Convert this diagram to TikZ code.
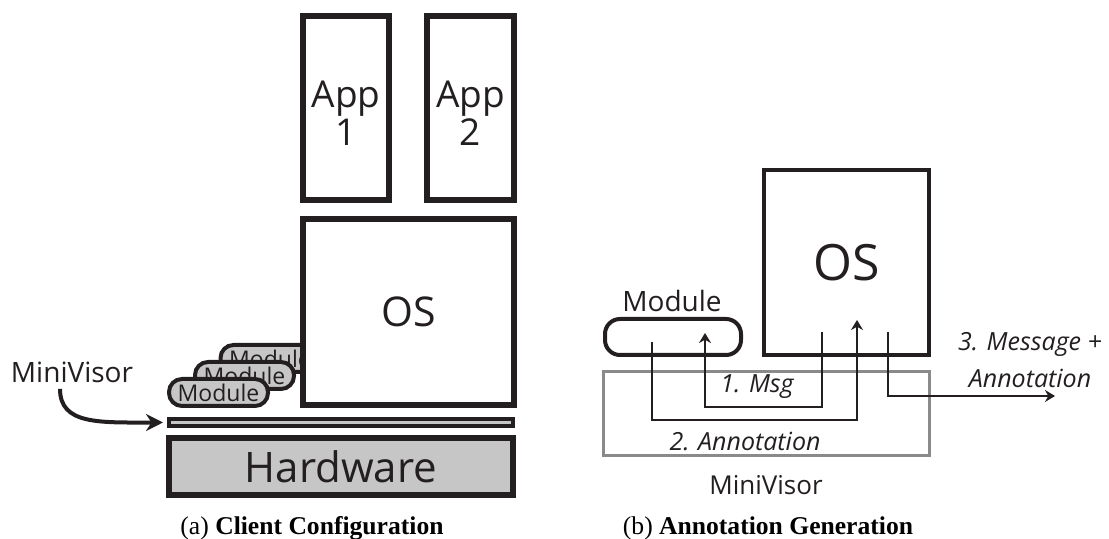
\documentclass[tikz,border=0pt]{standalone}
\usepackage{fontspec}
\setmainfont{Liberation Serif}
\newfontfamily\figfont{Open Sans}
\usetikzlibrary{arrows.meta, positioning, calc}
\definecolor{inkblack}{HTML}{231F20}
\definecolor{hwgray}{HTML}{C6C6C6}
\definecolor{mvgray}{HTML}{8A8A8A}

\begin{document}
\begin{tikzpicture}[
    x=0.5pt, y=-0.5pt,
    appbox/.style={rectangle, draw=inkblack, fill=white, line width=3pt, inner sep=0pt,
                   text=inkblack, align=center, font=\figfont\fontsize{18.5}{19}\selectfont},
    modpill/.style={rectangle, rounded corners=6.5pt, draw=inkblack, fill=hwgray, line width=2pt,
                    inner sep=0pt, minimum width=49.5pt, minimum height=13.5pt,
                    text=inkblack, font=\figfont\fontsize{11.5}{12}\selectfont},
    layerbar/.style={rectangle, draw=inkblack, fill=hwgray, inner sep=0pt, minimum width=172pt,
                     text=inkblack, font=\figfont\fontsize{21}{24}\selectfont},
    plainlabel/.style={inner sep=0pt, text=inkblack, font=\figfont\fontsize{14}{16}\selectfont},
    steplabel/.style={inner sep=0pt, text=inkblack, align=center,
                      font=\figfont\itshape\fontsize{12.5}{18.5}\selectfont},
    flow/.style={-{Stealth[length=5pt, width=6pt]}, line width=1.1pt, draw=inkblack},
    caption/.style={anchor=base, inner sep=0pt, font=\fontsize{12.8}{14}\selectfont},
]
    \useasboundingbox (0,0) rectangle (1109,539);

    % Client configuration
    \node[appbox, minimum width=43pt, minimum height=92pt] (app1) at (346,108) {\rule{0pt}{19pt}App\\1};
    \node[appbox, minimum width=43.5pt, minimum height=92pt] (app2) at (470.5,108) {\rule{0pt}{19pt}App\\2};

    \node[modpill] (mod3) at (270,358.5) {Module};
    \node[modpill] (mod2) at (244.5,375.5) {Module};
    \node[modpill] (mod1) at (218.5,392.5) {Module};

    \node[appbox, minimum width=105.5pt, minimum height=93pt,
          font=\figfont\fontsize{20.5}{22}\selectfont] (os1) at (408.5,312) {OS};

    \node[layerbar, line width=2pt, minimum height=3.5pt] (mvbar) at (341,422.5) {};
    \node[layerbar, line width=3pt, minimum height=28.5pt] (hw) at (341,466.5) {Hardware};

    \node[plainlabel] (mvlab1) at (72,372) {MiniVisor};
    \draw[-{Stealth[length=8.5pt, width=8.5pt]}, line width=2pt, draw=inkblack]
        ([xshift=-6pt, yshift=-3pt]mvlab1.south) .. controls +(0,-18pt) and +(-32pt,0) .. ([xshift=-2pt]mvbar.west);

    \node[caption] (capa) at (312,535) {(a) \textbf{Client Configuration}};

    % Annotation generation
    \node[rectangle, draw=mvgray, line width=1.5pt, minimum width=163pt, minimum height=42pt,
          inner sep=0pt] (mvbox) at (766.5,413.5) {};
    \node[plainlabel, font=\figfont\fontsize{13}{15}\selectfont] (mvlab2) at (766,485) {MiniVisor};

    \node[rectangle, draw=inkblack, fill=white, line width=2pt, minimum width=82.5pt,
          minimum height=92.5pt, inner sep=0pt, text=inkblack,
          font=\figfont\fontsize{25}{27}\selectfont] (os2) at (846.5,262.5) {OS};
    \node[rectangle, rounded corners=7.5pt, draw=inkblack, line width=2pt, minimum width=68pt,
          minimum height=18pt, inner sep=0pt] (mod4) at (673,337) {};
    \node[plainlabel] (modlab) at (672,301) {Module};

    \coordinate (msgout) at (822,332);
    \coordinate (msgin) at (705,333);
    \coordinate (annout) at (652,342);
    \coordinate (annin) at (857,320);
    \coordinate (fwdout) at (888,332);
    \coordinate (fwdend) at (1055,396);

    \draw[flow] (msgout) -- (822,407) -| (msgin);
    \draw[flow] (annout) -- (652,420) -| (annin);
    \draw[flow] (fwdout) |- (fwdend);

    \node[steplabel] (msglab) at (757,387) {1. Msg};
    \node[steplabel] (annlab) at (745,441) {2. Annotation};
    \node[steplabel] (fwdlab) at (1030,360) {3. Message +\\Annotation};

    \node[caption] (capb) at (768,535) {(b) \textbf{Annotation Generation}};
\end{tikzpicture}
\end{document}
